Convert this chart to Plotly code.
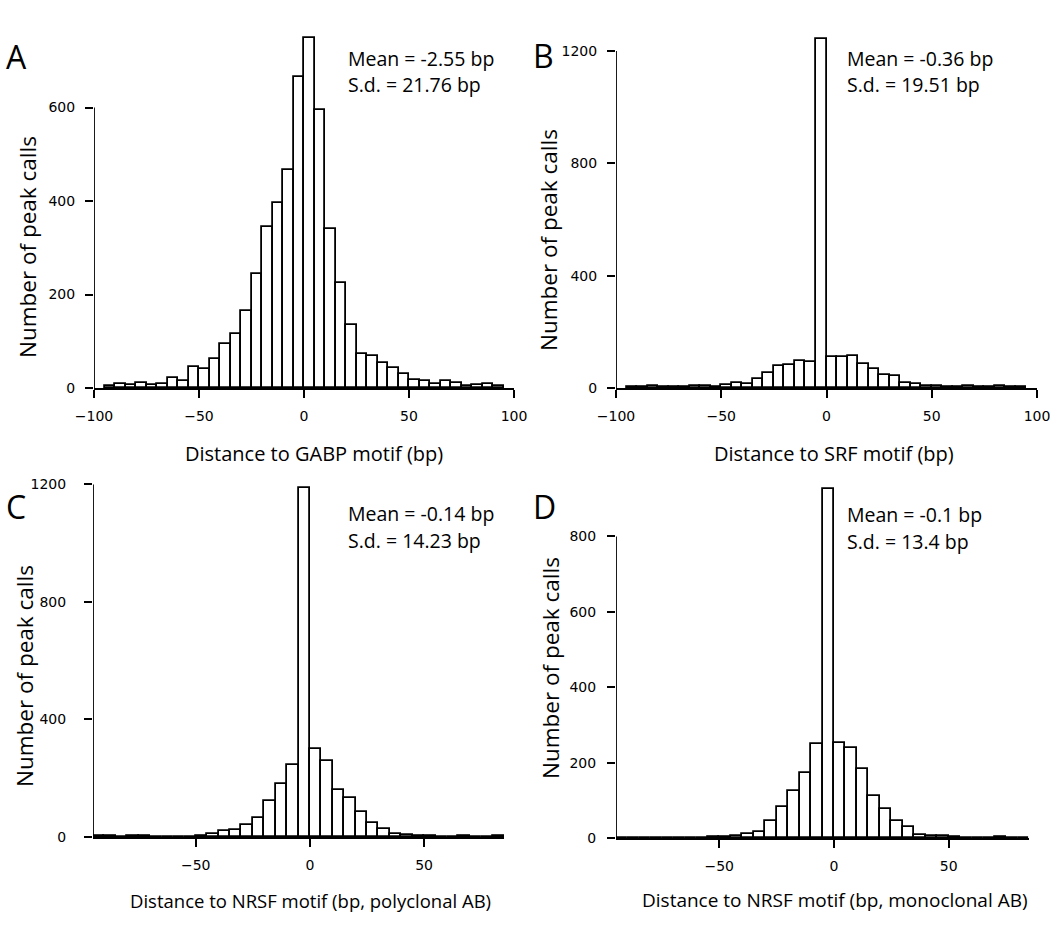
import plotly.graph_objects as go

W, H = 1050, 931

# bin width (bp) and left edge of first bin for each panel
bin_width = 5
bin_start_a = -95
bin_start_b = -95
bin_start_c = -95
bin_start_d = -95

counts_a = [4, 9, 6, 11, 7, 8, 22, 16, 44, 40, 63, 95, 116, 164, 243, 344, 395, 466, 666,
            748, 594, 340, 225, 134, 72, 68, 53, 43, 29, 18, 15, 9, 15, 11, 4, 6, 9, 4]
counts_b = [4, 4, 7, 4, 4, 5, 6, 6, 5, 9, 18, 15, 31, 53, 80, 83, 97, 91, 1244,
            109, 109, 115, 85, 68, 47, 42, 18, 13, 7, 7, 4, 2, 8, 5, 4, 7, 3, 2]
counts_c = [3, 2, 1, 2, 2, 1, 1, 0, 1, 2, 9, 19, 23, 40, 66, 121, 179, 244, 1189,
            299, 260, 159, 132, 84, 49, 27, 11, 6, 3, 2, 1, 1, 2, 1, 1, 2]
counts_d = [1, 1, 1, 0, 1, 1, 1, 1, 2, 3, 5, 11, 17, 44, 81, 126, 172, 250, 925,
            253, 239, 183, 111, 77, 44, 28, 9, 4, 6, 2, 1, 1, 1, 2, 1, 1]

xticks_ab = [-100, -50, 0, 50, 100]
xticks_cd = [-50, 0, 50]
yticks_a = [0, 200, 400, 600]
yticks_b = [0, 400, 800, 1200]
yticks_c = [0, 400, 800, 1200]
yticks_d = [0, 200, 400, 600, 800]

letters = ["A", "B", "C", "D"]
xtitles = ["Distance to GABP motif (bp)", "Distance to SRF motif (bp)",
           "Distance to NRSF motif (bp, polyclonal AB)", "Distance to NRSF motif (bp, monoclonal AB)"]
means = ["Mean = -2.55 bp", "Mean = -0.36 bp", "Mean = -0.14 bp", "Mean = -0.1 bp"]
sds = ["S.d. = 21.76 bp", "S.d. = 19.51 bp", "S.d. = 14.23 bp", "S.d. = 13.4 bp"]

# panel geometry in pixels: x-left, x-right, y of zero, y of top, x range, y range top
panels = [
    dict(counts=counts_a, start=bin_start_a, xl=94, xr=514, yb=388, yt=30, xrange=[-100, 100], ymax=766, xt=xticks_ab, yt_vals=yticks_a, ystand=7),
    dict(counts=counts_b, start=bin_start_b, xl=616, xr=1037, yb=388, yt=30, xrange=[-100, 100], ymax=1275, xt=xticks_ab, yt_vals=yticks_b, ystand=7),
    dict(counts=counts_c, start=bin_start_c, xl=93, xr=504, yb=837, yt=475, xrange=[-95, 85], ymax=1232, xt=xticks_cd, yt_vals=yticks_c, ystand=15),
    dict(counts=counts_d, start=bin_start_d, xl=616, xr=1029, yb=838, yt=475, xrange=[-95, 85], ymax=963, xt=xticks_cd, yt_vals=yticks_d, ystand=8),
]

# text positions in pixels
letter_pos = [(16, 57), (543, 55), (16, 507), (544, 506)]
ytitle_pos = [(27, 247), (548, 240), (24, 676), (550, 668)]
xtitle_pos = [(314, 453), (834, 453), (310, 900), (835, 900)]
xtitle_size = [20, 20, 18.5, 19]
stats_pos = [(346, 58), (845, 58), (346, 513), (845, 514)]

TEXT_FONT = "Open Sans"
TICK_FONT = "DejaVu Sans"

fig = go.Figure()
annotations = []
shapes = []


def px(x):
    return x / W


def py(y):
    return 1 - y / H


for i, p in enumerate(panels):
    n = "" if i == 0 else str(i + 1)
    centers = [p["start"] + bin_width * (k + 0.5) for k in range(len(p["counts"]))]
    fig.add_trace(go.Bar(
        x=centers, y=p["counts"], width=bin_width,
        marker=dict(color="white", line=dict(color="black", width=1.8)),
        xaxis="x" + n, yaxis="y" + n, showlegend=False, hoverinfo="skip",
    ))
    fig.layout["xaxis" + n] = dict(
        domain=[px(p["xl"]), px(p["xr"])], range=p["xrange"], anchor="y" + n,
        showgrid=False, zeroline=False, showline=True, linecolor="black", linewidth=1.8,
        ticks="outside", ticklen=8, tickwidth=1.6, tickcolor="black",
        tickvals=p["xt"], ticklabelstandoff=6, automargin=False, ticklabeloverflow="allow",
        tickfont=dict(family=TICK_FONT, size=14, color="black"),
    )
    fig.layout["yaxis" + n] = dict(
        domain=[py(p["yb"]), py(p["yt"])], range=[0, p["ymax"]], anchor="x" + n,
        showgrid=False, zeroline=False, showline=False,
        ticks="outside", ticklen=8, tickwidth=1.6, tickcolor="black",
        tickvals=p["yt_vals"], ticklabelstandoff=p["ystand"], automargin=False,
        tickfont=dict(family=TICK_FONT, size=14, color="black"),
    )
    # R-style y axis line from first to last tick
    shapes.append(dict(type="line", xref="x" + n, yref="y" + n,
                       x0=p["xrange"][0], x1=p["xrange"][0],
                       y0=p["yt_vals"][0], y1=p["yt_vals"][-1],
                       line=dict(color="black", width=1.8)))

    lx, ly = letter_pos[i]
    annotations.append(dict(text=letters[i], x=px(lx), y=py(ly), xref="paper", yref="paper",
                            xanchor="center", yanchor="middle", showarrow=False,
                            font=dict(family=TEXT_FONT, size=32, color="black")))
    tx, ty = ytitle_pos[i]
    annotations.append(dict(text="Number of peak calls", x=px(tx), y=py(ty), xref="paper", yref="paper",
                            xanchor="center", yanchor="middle", showarrow=False, textangle=-90,
                            font=dict(family=TEXT_FONT, size=22.5, color="black")))
    tx, ty = xtitle_pos[i]
    annotations.append(dict(text=xtitles[i], x=px(tx), y=py(ty), xref="paper", yref="paper",
                            xanchor="center", yanchor="middle", showarrow=False,
                            font=dict(family=TEXT_FONT, size=xtitle_size[i], color="black")))
    sx, sy = stats_pos[i]
    annotations.append(dict(text=means[i], x=px(sx), y=py(sy), xref="paper", yref="paper",
                            xanchor="left", yanchor="middle", showarrow=False,
                            font=dict(family=TEXT_FONT, size=19.5, color="black")))
    annotations.append(dict(text=sds[i], x=px(sx), y=py(sy + 27), xref="paper", yref="paper",
                            xanchor="left", yanchor="middle", showarrow=False,
                            font=dict(family=TEXT_FONT, size=19.5, color="black")))

fig.update_layout(
    width=W, height=H,
    margin=dict(l=0, r=0, t=0, b=0, pad=0, autoexpand=False),
    paper_bgcolor="white", plot_bgcolor="white",
    bargap=0,
    annotations=annotations,
    shapes=shapes,
)

# drop the default page margin so the figure sits at the window origin
fig.write_html("out.html", config={"displayModeBar": False},
               post_script="document.body.style.margin='0';")
